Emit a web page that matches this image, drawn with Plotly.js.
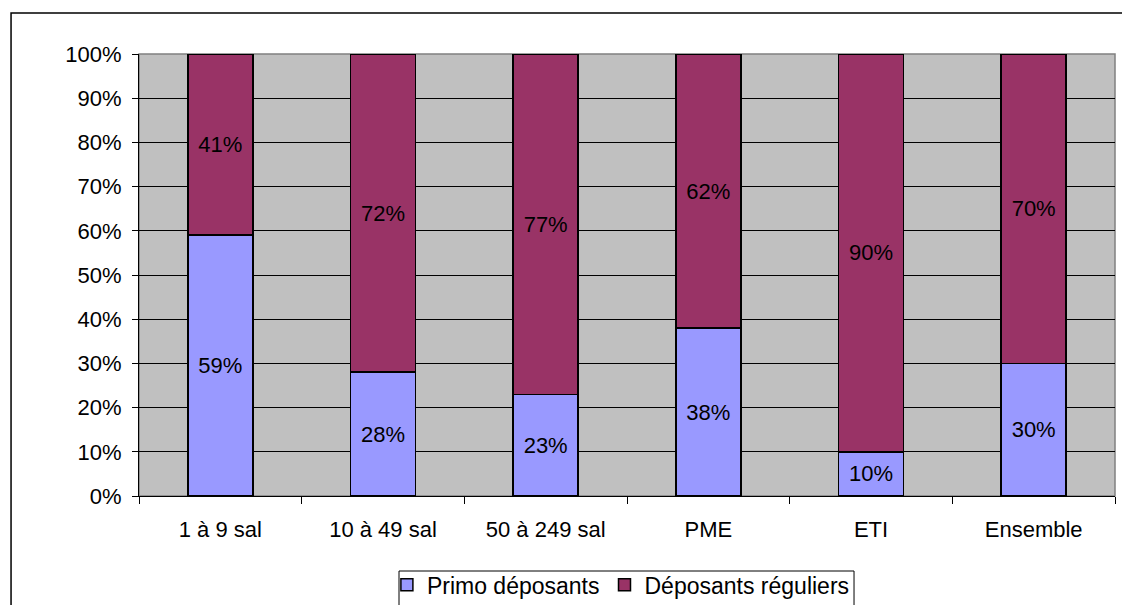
<!DOCTYPE html>
<html>
<head>
<meta charset="utf-8">
<script src="https://cdn.plot.ly/plotly-3.0.1.min.js"></script>
<style>html,body{margin:0;padding:0;background:#fff;}#chart{width:1122px;height:605px;}</style>
</head>
<body>
<div id="chart"></div>
<script>
const categories = ["1 à 9 sal", "10 à 49 sal", "50 à 249 sal", "PME", "ETI", "Ensemble"];
const primo = [59, 28, 23, 38, 10, 30];
const reguliers = [41, 72, 77, 62, 90, 70];
const yTickVals = [0, 10, 20, 30, 40, 50, 60, 70, 80, 90, 100];
const yTickText = ["0%", "10%", "20%", "30%", "40%", "50%", "60%", "70%", "80%", "90%", "100%"];

const FONT = "Liberation Sans, Arial, sans-serif";
const common = {
  type: "bar",
  x: categories,
  texttemplate: "%{text}",
  textposition: "inside",
  insidetextanchor: "middle",
  textangle: 0,
  constraintext: "none",
  textfont: {family: FONT, size: 22, color: "#000"},
  hoverinfo: "none"
};
const traces = [
  Object.assign({}, common, {y: primo, text: primo.map(v => v + "%"), name: "Primo déposants",
    marker: {color: "#9999FF", line: {color: "#000", width: 1.5}}}),
  Object.assign({}, common, {y: reguliers, text: reguliers.map(v => v + "%"), name: "Déposants réguliers",
    marker: {color: "#993366", line: {color: "#000", width: 1.5}}})
];

const layout = {
  width: 1122, height: 605,
  margin: {l: 139, r: 7, t: 54, b: 109, pad: 0, autoexpand: false},
  paper_bgcolor: "#fff",
  plot_bgcolor: "#C0C0C0",
  barmode: "stack",
  bargap: 0.6,
  font: {family: FONT, size: 22, color: "#000"},
  showlegend: true,
  legend: {
    orientation: "h", x: 0.254, xanchor: "left", y: -0.152, yanchor: "top",
    borderwidth: 0, bgcolor: "rgba(0,0,0,0)",
    font: {family: FONT, size: 23, color: "#000"}, traceorder: "normal",
    itemwidth: 30
  },
  xaxis: {
    type: "category", tickson: "boundaries", ticks: "outside", ticklen: 7,
    tickcolor: "#000", showline: true, linecolor: "#000", linewidth: 1,
    showgrid: false, ticklabelstandoff: 14,
    tickfont: {family: FONT, size: 22, color: "#000"}
  },
  yaxis: {
    range: [0, 100], tickvals: yTickVals, ticktext: yTickText,
    ticks: "outside", ticklen: 6, tickcolor: "#000",
    showline: true, linecolor: "#000", linewidth: 1,
    showgrid: true, gridcolor: "#000", gridwidth: 1, zeroline: false,
    ticklabelstandoff: 6,
    tickfont: {family: FONT, size: 22, color: "#000"}
  },
  shapes: [
    {type: "rect", xref: "paper", yref: "paper", x0: 0, x1: 1, y0: 0, y1: 1,
     line: {color: "#808080", width: 1.5}, fillcolor: "rgba(0,0,0,0)", layer: "below"},
    {type: "rect", xref: "paper", yref: "paper", x0: -0.1311, x1: 1.02, y0: -0.3, y1: 1.0928,
     line: {color: "#000", width: 1.5}, fillcolor: "rgba(0,0,0,0)", layer: "above"},
    {type: "rect", xref: "paper", yref: "paper", x0: 0.2664, x1: 0.7326, y0: -0.3, y1: -0.1697,
     line: {color: "#000", width: 1}, fillcolor: "rgba(0,0,0,0)", layer: "above"}
  ]
};

Plotly.newPlot("chart", traces, layout, {displayModeBar: false, staticPlot: true});
</script>
</body>
</html>
